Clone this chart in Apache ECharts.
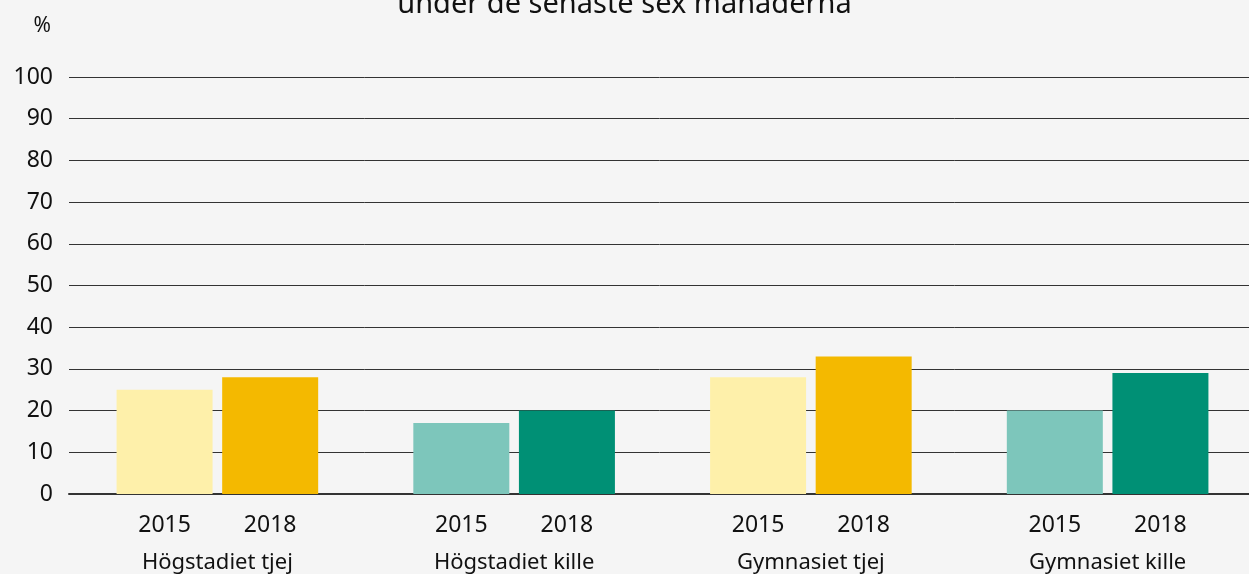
<!DOCTYPE html>
<html>
<head>
<meta charset="utf-8">
<script src="https://cdn.jsdelivr.net/npm/echarts@6/dist/echarts.min.js"></script>
<style>
  html, body { margin: 0; padding: 0; background: #f5f5f5; }
  #chart { width: 1249px; height: 574px; }
</style>
</head>
<body>
<div id="chart"></div>
<script>
var groups = ['Högstadiet tjej', 'Högstadiet kille', 'Gymnasiet tjej', 'Gymnasiet kille'];
var years = ['2015', '2018'];
var values2015 = [25, 17, 28, 20];
var values2018 = [28, 20, 33, 29];
var colors2015 = ['#fef0aa', '#7dc6bb', '#fef0aa', '#7dc6bb'];
var colors2018 = ['#f4b900', '#009075', '#f4b900', '#009075'];
var yTicks = { min: 0, max: 100, interval: 10 };

var font = '"Noto Sans", sans-serif';

function makeSeries(name, vals, cols) {
  return {
    name: name,
    type: 'bar',
    barWidth: 96,
    barGap: '10%',
    data: vals.map(function (v, i) {
      return { value: v, itemStyle: { color: cols[i] } };
    }),
    label: {
      show: true,
      position: 'bottom',
      distance: 20,
      formatter: name,
      color: '#111',
      fontSize: 23,
      fontFamily: font
    }
  };
}

var chart = echarts.init(document.getElementById('chart'));
var option = {
  backgroundColor: '#f5f5f5',
  animation: false,
  title: {
    text: 'under de senaste sex månaderna',
    left: 'center',
    top: -15,
    textStyle: { fontSize: 29, fontWeight: 'normal', color: '#111', fontFamily: font }
  },
  // grid is a little wider than the window, as in the original
  grid: { left: 69, width: 1187, top: 77, bottom: 80, outerBoundsMode: 'none' },
  xAxis: {
    type: 'category',
    data: groups,
    axisLine: { lineStyle: { color: '#333', width: 2 } },
    axisTick: { show: false },
    axisLabel: { margin: 58, fontSize: 22, color: '#111', fontFamily: font }
  },
  yAxis: {
    type: 'value',
    min: yTicks.min,
    max: yTicks.max,
    interval: yTicks.interval,
    name: '%',
    nameLocation: 'end',
    nameGap: 40,
    nameTextStyle: { align: 'right', padding: [0, 18, 0, 0], fontSize: 21, color: '#111', fontFamily: font },
    axisLine: { show: false },
    axisTick: { show: false },
    axisLabel: { margin: 16, fontSize: 23, color: '#111', fontFamily: font },
    splitLine: { lineStyle: { color: '#333', width: 1 } }
  },
  series: [
    makeSeries(years[0], values2015, colors2015),
    makeSeries(years[1], values2018, colors2018)
  ]
};
chart.setOption(option);
</script>
</body>
</html>
